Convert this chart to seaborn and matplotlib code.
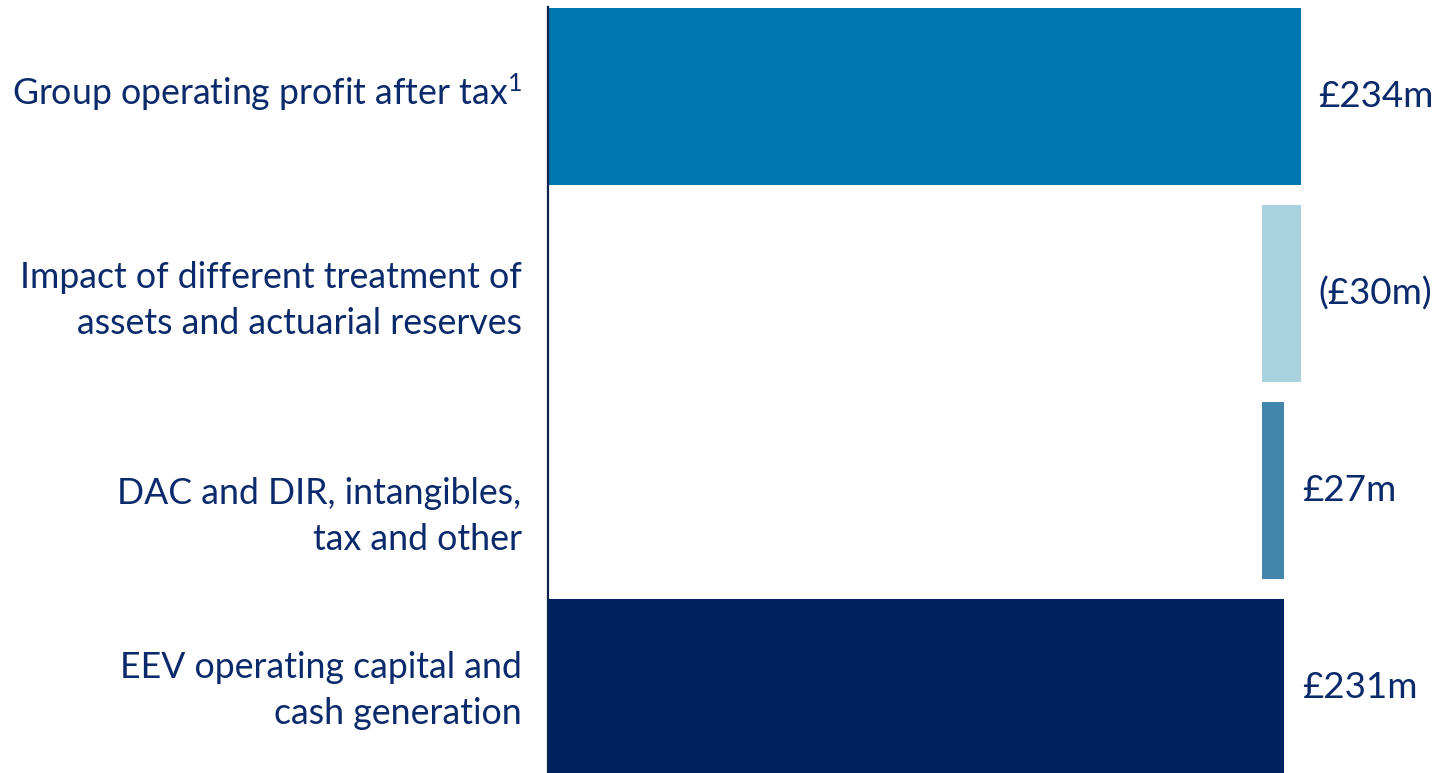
import matplotlib
matplotlib.use("Agg")
import matplotlib.pyplot as plt
import matplotlib.transforms as mtransforms
import seaborn as sns
import pandas as pd

categories = [
    "Group operating profit after tax$^{1}$",
    "Impact of different treatment of\nassets and actuarial reserves",
    "DAC and DIR, intangibles,\ntax and other",
    "EEV operating capital and\ncash generation",
]
# bar extents as drawn in the reference (£m, left and right edge)
bar_start = [0, 222.0, 222.0, 0]
bar_end = [234, 234, 228.8, 228.8]
value_labels = ["£234m", "(£30m)", "£27m", "£231m"]
bar_colors = ["#0077ae", "#a9d2e0", "#4386ac", "#00235f"]

TEXT = "#0b2a6b"

sns.set_theme(style="white")
plt.rcParams["font.family"] = ["Lato", "DejaVu Sans"]
plt.rcParams["mathtext.fontset"] = "custom"
plt.rcParams["mathtext.rm"] = "Lato"
plt.rcParams["mathtext.it"] = "Lato"
plt.rcParams["mathtext.default"] = "rm"

df = pd.DataFrame({"category": categories, "start": bar_start, "end": bar_end})

fig = plt.figure(figsize=(14.43, 7.73), dpi=100)
ax = fig.add_axes([548 / 1443, 0, (1443 - 548) / 1443, 766 / 773])

sns.barplot(data=df, x="end", y="category", hue="category", palette=bar_colors,
            saturation=1, width=0.9, linewidth=0, legend=False, ax=ax, order=categories)
sns.barplot(data=df, x="start", y="category", color="white",
            saturation=1, width=0.9, linewidth=0, ax=ax, order=categories)

ax.set_xlim(0, (1443 - 548) / 3.218)
ax.set_ylim(3.433, -0.455)
ax.set_xlabel("")
ax.set_ylabel("")
ax.set_xticks([])
ax.tick_params(axis="y", length=0, pad=19, labelsize=25.7, labelcolor=TEXT)

# small vertical nudges of the category labels (screen pixels, down positive)
label_nudge_px = [-8, -3, 16, -7]
for lbl, d in zip(ax.get_yticklabels(), label_nudge_px):
    lbl.set_linespacing(1.5)
    lbl.set_transform(lbl.get_transform() +
                      mtransforms.ScaledTranslation(0, -d / 100, fig.dpi_scale_trans))

for s in ["top", "right", "bottom"]:
    ax.spines[s].set_visible(False)
ax.spines["left"].set_color("#0f2350")
ax.spines["left"].set_linewidth(1.6)

for i, (e, t) in enumerate(zip(bar_end, value_labels)):
    ax.annotate(t, xy=(e, i), xytext=(12.5, 0), textcoords="offset points",
                ha="left", va="center", fontsize=26.5, color=TEXT)

fig.savefig("out.png", dpi=100)
